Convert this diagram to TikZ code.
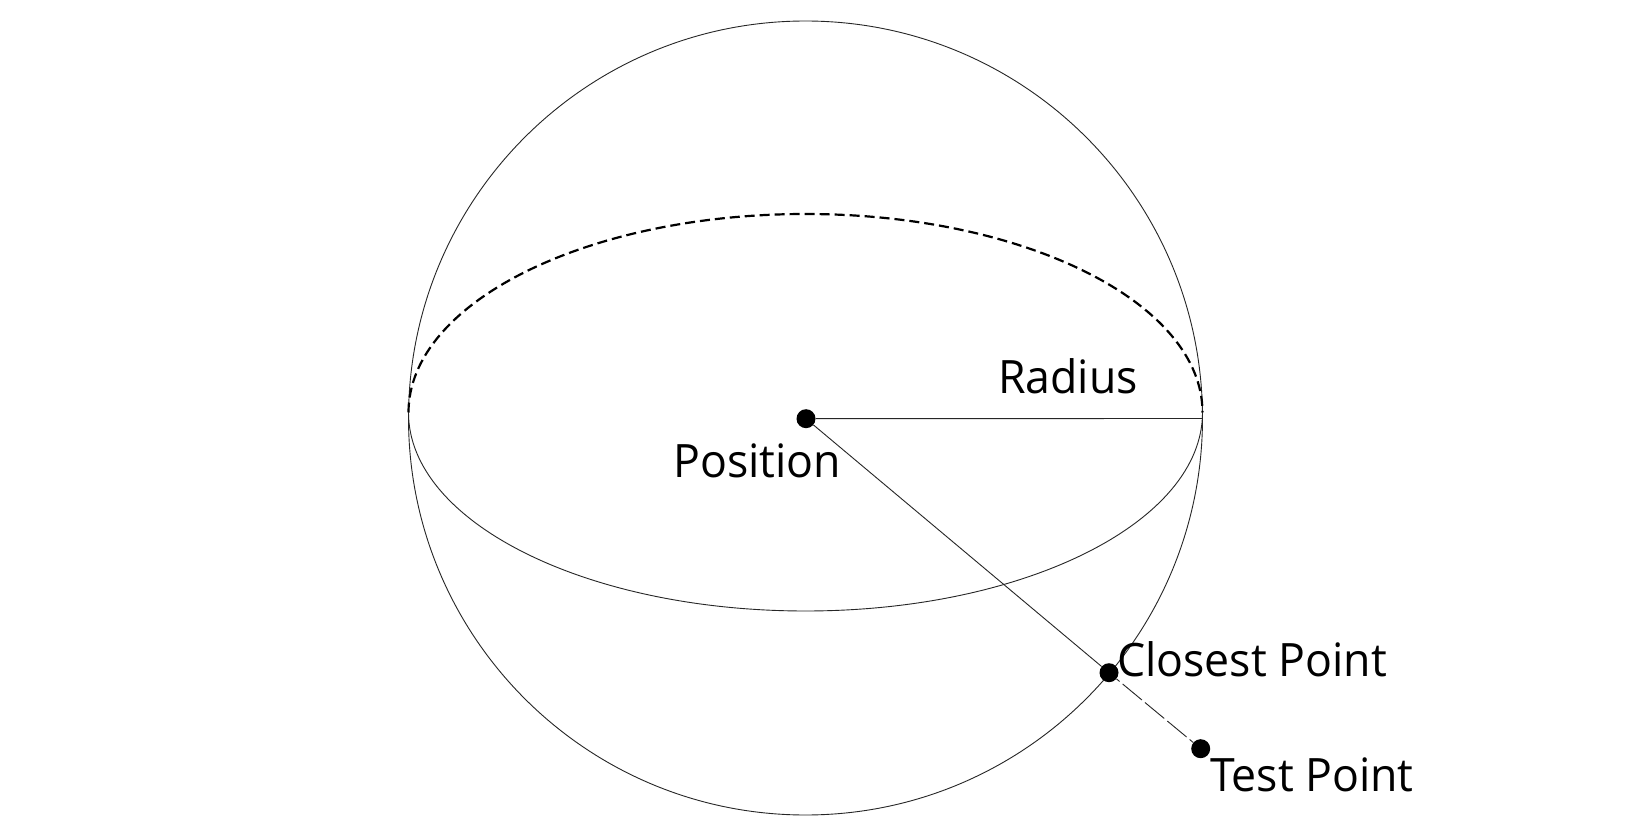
\documentclass[tikz,border=0pt]{standalone}
\usepackage{fontspec}
\setmainfont[FakeStretch=0.97]{Open Sans}
\begin{document}
\begin{tikzpicture}[x=1pt,y=-1pt,
  dotnode/.style={circle,fill=black,draw=none,minimum size=19pt,inner sep=0pt},
  labelnode/.style={anchor=base west,inner sep=0pt,font=\fontsize{46}{46}\selectfont},
  thinline/.style={line width=0.9pt,draw=black!85}]
\useasboundingbox (0,0) rectangle (1650,834);
\fill[white] (0,0) rectangle (1650,834);
\coordinate (c) at (805.5,418);
\coordinate (rim) at (1202.5,418.5);
\draw[thinline] (c) circle[radius=397];
\draw[line width=2.2pt,dash pattern=on 10pt off 5pt] (408.5,412.5) arc[start angle=180,end angle=360,x radius=397,y radius=198.5];
\draw[thinline] (408.5,412.5) arc[start angle=180,end angle=0,x radius=397,y radius=198.5];
\node[dotnode] (pos) at (806,418.7) {};
\node[dotnode] (closest) at (1109,672.7) {};
\node[dotnode] (test) at (1200.7,748.7) {};
\draw[thinline] (pos) -- (rim);
\draw[thinline] (pos) -- (closest);
\draw[thinline,dash pattern=on 25pt off 4pt,dash phase=21pt] (closest) -- (test);
\node[labelnode] (lr) at (998,394) {Radius};
\node[labelnode] (lp) at (673,477) {Position};
\node[labelnode] (lc) at (1117,676.7) {Closest Point};
\node[labelnode] (lt) at (1210,791) {Test Point};
\end{tikzpicture}
\end{document}
